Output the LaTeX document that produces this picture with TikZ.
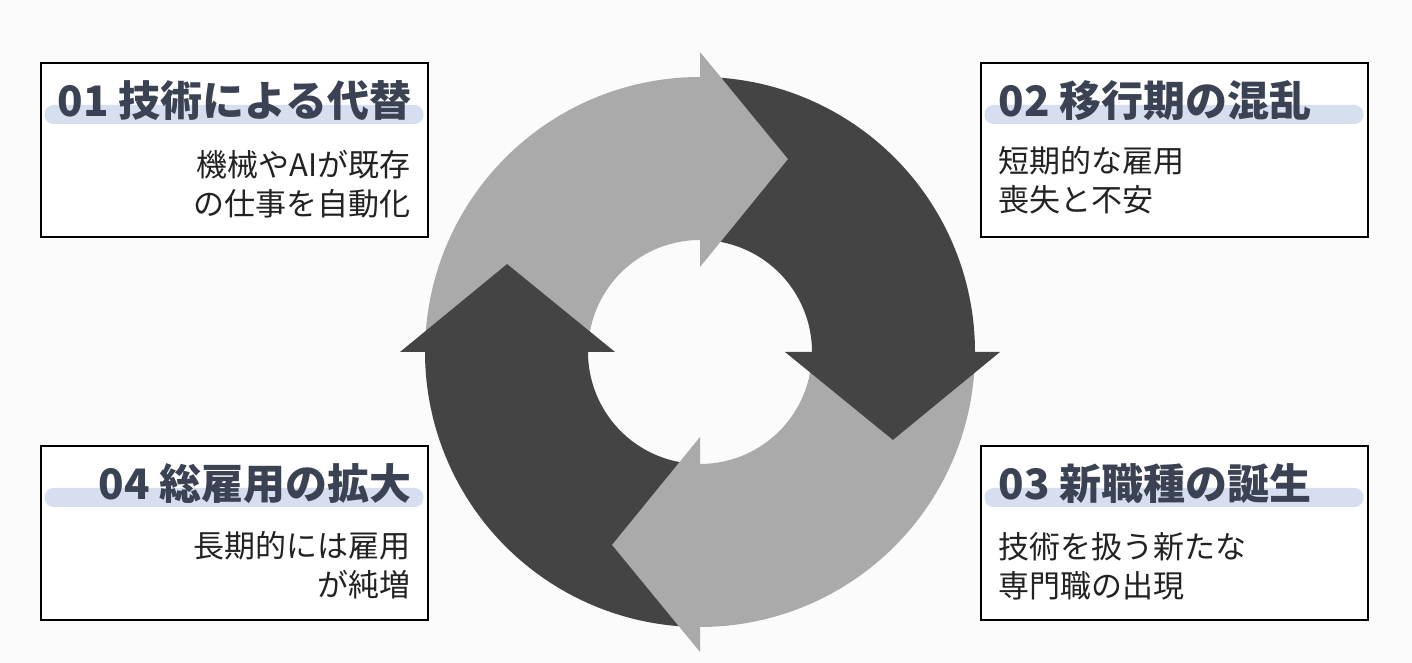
\documentclass[tikz,border=0pt]{standalone}
\usepackage{fontspec}
\setmainfont{Noto Sans CJK JP}
\usetikzlibrary{positioning,calc}
\definecolor{ringlight}{HTML}{AAAAAA}
\definecolor{ringdark}{HTML}{444444}
\definecolor{titleink}{HTML}{3B4253}
\definecolor{barblue}{HTML}{D5DFEF}
\definecolor{bodyink}{HTML}{222222}
\definecolor{paper}{HTML}{FBFBFB}
\tikzset{main box/.style={rectangle,draw,line width=2pt,fill=white,
    minimum width=387pt,minimum height=174pt,inner sep=0pt}, }
\tikzset{title text/.style={text=titleink,inner sep=0pt,
    font=\fontsize{42}{48}\selectfont\bfseries}, }
\tikzset{body text/.style={text=bodyink,inner sep=0pt,
    font=\fontsize{31}{39}\selectfont}, }
\tikzset{title bar/.style={fill=barblue,rounded corners=9pt}, }
\tikzset{ring part/.style={fill=#1}, }

\begin{document}
\begin{tikzpicture}[x=1pt,y=1pt]
 \fill[paper] (0,0) rectangle (1412,663);
 \useasboundingbox (0,0) rectangle (1412,663);
 %
 \coordinate (C) at (700,311);
 % ring: bodies first (ends hidden under the heads), then the heads
 \foreach \a/\c in {180/ringlight,90/ringdark,0/ringlight,-90/ringdark}
   \path[ring part=\c] ($(C)+(\a-1:275)$) arc[start angle=\a-1,end angle=\a-92,radius=275]
     -- ($(C)+(\a-92:112)$) arc[start angle=\a-92,end angle=\a-1,radius=112] -- cycle;
 \foreach \a/\c in {180/ringlight,90/ringdark,0/ringlight,-90/ringdark}
   \path[ring part=\c] ($(C)+(\a-90:85)$) -- ($(C)+(\a-90:300)$)
     -- ($(C)+(\a-114.5:212)$) -- cycle;
 %
 \node[main box] (b1) at (234,513) {};
 \node[main box] (b2) [right=551pt of b1] {};
 \node[main box] (b4) [below=207pt of b1] {};
 \node[main box] (b3) [below=207pt of b2] {};

 \foreach \b in {b1,b2,b3,b4}
   \fill[title bar] ($(\b.north west)+(5,-43)$) rectangle ($(\b.north east)+(-5,-62)$);

 \node[title text,anchor=east] (t1) at ($(b1.north east)+(-17,-39)$) {01 技術による代替};
 \node[title text,anchor=west] (t2) at ($(b2.north west)+(19,-39)$) {02 移行期の混乱};
 \node[title text,anchor=west] (t3) at ($(b3.north west)+(19,-39)$) {03 新職種の誕生};
 \node[title text,anchor=east] (t4) at ($(b4.north east)+(-17,-39)$) {04 総雇用の拡大};

 \node[body text,anchor=east,align=right] (d1) at ($(b1.north east)+(-18,-122)$) {機械やAIが既存\\の仕事を自動化};
 \node[body text,anchor=west,align=left] (d2) at ($(b2.north west)+(19,-118)$) {短期的な雇用\\喪失と不安};
 \node[body text,anchor=west,align=left] (d3) at ($(b3.north west)+(19,-121)$) {技術を扱う新たな\\専門職の出現};
 \node[body text,anchor=east,align=right] (d4) at ($(b4.north east)+(-18,-120)$) {長期的には雇用\\が純増};
\end{tikzpicture}
\end{document}
